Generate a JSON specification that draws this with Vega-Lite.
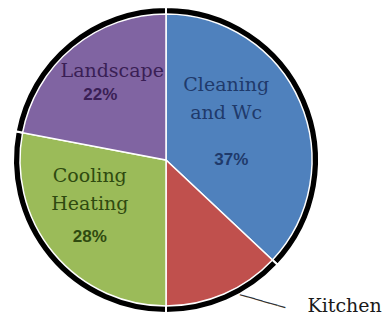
{
  "$schema": "https://vega.github.io/schema/vega-lite/v6.json",
  "width": 300,
  "height": 300,
  "autosize": "none",
  "padding": {"left": 16, "top": 10, "right": 68, "bottom": 11},
  "background": "white",
  "view": {"stroke": null},
  "data": {
    "values": [
      {"category": "Cleaning and Wc", "value": 37, "order": 1, "name": "Cleaning\nand Wc", "pct": "37%"},
      {"category": "Kitchen", "value": 13, "order": 2, "name": "Kitchen", "pct": "13%"},
      {"category": "Cooling Heating", "value": 28, "order": 3, "name": "Cooling\nHeating", "pct": "28%"},
      {"category": "Landscape", "value": 22, "order": 4, "name": "Landscape", "pct": "22%"}
    ]
  },
  "encoding": {
    "theta": {"field": "value", "type": "quantitative", "stack": true},
    "order": {"field": "order", "type": "quantitative"},
    "detail": {"field": "category", "type": "nominal"}
  },
  "layer": [
    {
      "mark": {"type": "arc", "fill": "black", "stroke": "white", "strokeWidth": 2},
      "encoding": {
        "radius": {"condition": {"test": "datum.category === 'Landscape'", "value": 148}, "value": 153}
      }
    },
    {
      "mark": {"type": "arc", "radius": 146, "stroke": "white", "strokeWidth": 1.5},
      "encoding": {
        "color": {
          "field": "category",
          "type": "nominal",
          "scale": {
            "domain": ["Cleaning and Wc", "Kitchen", "Cooling Heating", "Landscape"],
            "range": ["#4f81bd", "#c0504d", "#9bbb59", "#8064a2"]
          },
          "legend": null
        }
      }
    },
    {
      "mark": {"type": "text", "radius": 70, "dx": -4, "dy": -47, "font": "DejaVu Serif", "fontSize": 19, "lineBreak": "\n", "lineHeight": 28, "align": "center", "baseline": "middle", "color": "#1f3a6b"},
      "encoding": {"text": {"condition": {"test": "datum.category === 'Cleaning and Wc'", "field": "name", "type": "nominal"}, "value": ""}}
    },
    {
      "mark": {"type": "text", "radius": 70, "dx": 1, "dy": 28, "font": "Liberation Sans", "fontWeight": "bold", "fontSize": 17, "align": "center", "baseline": "middle", "color": "#1f3a6b"},
      "encoding": {"text": {"condition": {"test": "datum.category === 'Cleaning and Wc'", "field": "pct", "type": "nominal"}, "value": ""}}
    },
    {
      "mark": {"type": "text", "radius": 100, "dx": 10, "dy": -12, "font": "DejaVu Serif", "fontSize": 19, "align": "center", "baseline": "middle", "color": "#3a1f55"},
      "encoding": {"text": {"condition": {"test": "datum.category === 'Landscape'", "field": "name", "type": "nominal"}, "value": ""}}
    },
    {
      "mark": {"type": "text", "radius": 100, "dx": -2, "dy": 12, "font": "Liberation Sans", "fontWeight": "bold", "fontSize": 17, "align": "center", "baseline": "middle", "color": "#3a1f55"},
      "encoding": {"text": {"condition": {"test": "datum.category === 'Landscape'", "field": "pct", "type": "nominal"}, "value": ""}}
    },
    {
      "mark": {"type": "text", "radius": 95, "dx": -3, "dy": -45, "font": "DejaVu Serif", "fontSize": 19, "lineBreak": "\n", "lineHeight": 28, "align": "center", "baseline": "middle", "color": "#2f4a10"},
      "encoding": {"text": {"condition": {"test": "datum.category === 'Cooling Heating'", "field": "name", "type": "nominal"}, "value": ""}}
    },
    {
      "mark": {"type": "text", "radius": 95, "dx": -3, "dy": 16, "font": "Liberation Sans", "fontWeight": "bold", "fontSize": 17, "align": "center", "baseline": "middle", "color": "#2f4a10"},
      "encoding": {"text": {"condition": {"test": "datum.category === 'Cooling Heating'", "field": "pct", "type": "nominal"}, "value": ""}}
    },
    {
      "mark": {"type": "text", "radius": 160, "dx": 78, "dy": -1, "font": "DejaVu Serif", "fontSize": 19, "align": "left", "baseline": "middle", "color": "#1a1a1a"},
      "encoding": {"text": {"condition": {"test": "datum.category === 'Kitchen'", "field": "name", "type": "nominal"}, "value": ""}}
    },
    {
      "mark": {"type": "text", "radius": 165, "dx": 27, "dy": -18, "angle": 16, "font": "DejaVu Sans Mono", "fontWeight": "bold", "fontSize": 13, "align": "center", "baseline": "middle", "color": "#333333"},
      "encoding": {"text": {"condition": {"test": "datum.category === 'Kitchen'", "value": "──────"}, "value": ""}}
    }
  ]
}
